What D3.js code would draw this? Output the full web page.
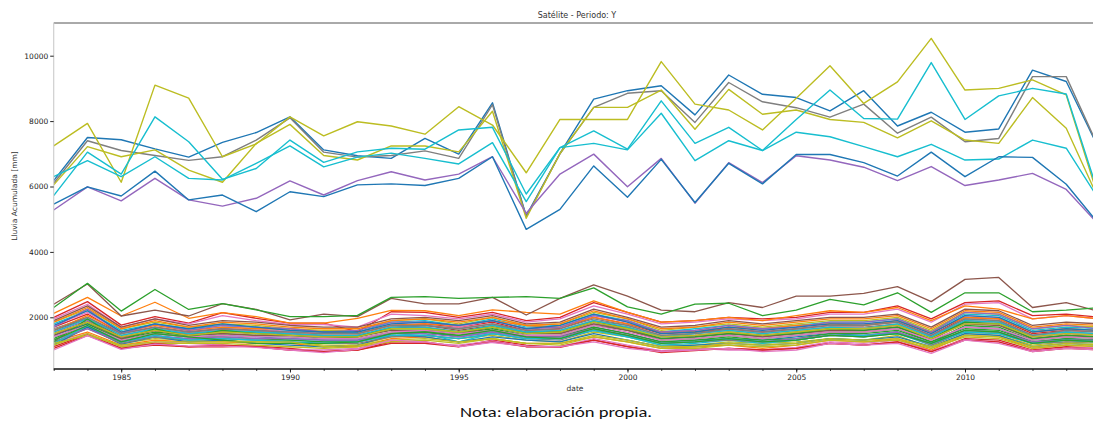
<!DOCTYPE html>
<html><head><meta charset="utf-8">
<script src="https://cdn.jsdelivr.net/npm/d3@7/dist/d3.min.js"></script>
<style>body{margin:0;background:#fff} svg{display:block}</style>
</head><body>
<svg id="c" width="1093" height="426"></svg>
<script>
const years = [1983,1984,1985,1986,1987,1988,1989,1990,1991,1992,1993,1994,1995,1996,1997,1998,1999,2000,2001,2002,2003,2004,2005,2006,2007,2008,2009,2010,2011,2012,2013,2014];
const yTicks = [2000,4000,6000,8000,10000];
const xMajorTicks = [1985,1990,1995,2000,2005,2010];
const chartTitle = "Satélite - Periodo: Y";
const yLabel = "Lluvia Acumulada [mm]";
const xLabel = "date";
const note = "Nota: elaboración propia.";

// upper group (high-rainfall stations)
const blueTop = [6180,7500,7430,7150,6900,7350,7650,8130,7120,6940,6860,7470,6990,8560,5100,7010,8670,8930,9080,8190,9410,8820,8720,8310,8930,7850,8270,7660,7760,9560,9210,7080];
const grayTop = [6100,7400,7100,6950,6800,6910,7420,8100,7050,6900,6950,7090,6860,8500,5080,7000,8420,8850,8930,7960,9180,8590,8410,8120,8520,7630,8120,7370,7470,9360,9360,7100];
const oliveA = [7240,7930,6130,9100,8700,6910,7300,8130,7550,7980,7850,7600,8440,7880,6420,8050,8050,8050,9820,8520,8340,7730,8700,9690,8540,9200,10530,8950,9000,9260,8800,5500];
const oliveB = [6050,7220,6910,7120,6500,6130,7320,7900,6950,6810,7240,7240,7060,8300,5030,7010,8420,8420,8950,7750,8970,8210,8340,8050,7960,7490,8010,7420,7320,8720,7780,5520];
const cyanA = [5720,7050,6380,8130,7370,6220,6550,7420,6740,7060,7170,7140,7730,7810,5770,7190,7700,7140,8620,7320,7810,7100,8050,8950,8080,8060,9790,8050,8770,9000,8830,5630];
const cyanB = [6300,6790,6300,6910,6250,6200,6710,7240,6600,6900,7020,6860,6690,7340,5540,7190,7320,7120,8240,6790,7400,7100,7660,7520,7220,6910,7290,6810,6840,7420,7170,5550];
const purpleTop = [5280,5990,5560,6250,5590,5400,5640,6170,5740,6180,6450,6200,6380,6910,5180,6380,6990,5990,6860,5490,6730,6120,6940,6810,6590,6180,6610,6030,6200,6400,5910,4790];
const blueLow = [5460,5990,5710,6470,5590,5740,5230,5840,5690,6050,6080,6030,6250,6910,4690,5300,6630,5670,6830,5510,6710,6080,6980,6980,6730,6320,7050,6300,6910,6890,6070,4810];

// lower group
const lGreen = [2300,3040,2190,2850,2240,2420,2230,2020,2020,2060,2610,2630,2580,2610,2630,2580,2900,2320,2100,2400,2430,2050,2220,2550,2380,2750,2150,2750,2750,2170,2220,2300];
const lBrown = [2400,3020,2040,2220,2040,2420,2240,1920,2100,2020,2580,2410,2410,2610,2070,2580,2990,2650,2220,2170,2450,2300,2650,2650,2730,2940,2480,3160,3220,2300,2450,2170];
const lOrange = [2120,2610,2040,2460,1970,2140,2020,1820,1820,1970,2210,2200,2050,2230,2150,2100,2500,2150,1850,1900,2000,1900,2050,2200,2150,2300,1900,2350,2250,1950,2050,1950];
const lPink0 = [1000,1440,1020,1180,1120,1120,1080,1000,920,1020,1300,1250,1100,1230,1120,1100,1250,1050,950,1000,1050,950,1000,1200,1150,1200,900,1300,1200,950,1050,1000];
const s01 = [1100,1480,1050,1150,1100,1100,1120,1050,950,1000,1250,1250,1100,1300,1150,1080,1300,1100,920,980,1050,1000,1050,1200,1150,1250,950,1350,1300,1000,1100,1050];
const s02 = [1200,1500,1100,1250,1200,1150,1100,1000,1000,1050,1300,1200,1150,1280,1100,1100,1350,1150,980,1050,1000,1000,1080,1250,1200,1300,980,1320,1250,980,1050,1080];
const s03 = [1250,1550,1150,1300,1250,1250,1200,1200,1100,1100,1350,1400,1250,1350,1200,1200,1400,1250,1050,1100,1150,1050,1150,1300,1250,1350,1000,1450,1400,1050,1150,1100];
const s04 = [1300,1700,1200,1350,1300,1300,1250,1250,1150,1150,1400,1450,1350,1450,1300,1250,1550,1400,1150,1150,1250,1200,1250,1350,1300,1450,1050,1500,1450,1150,1250,1200];
const s05 = [1400,1720,1250,1400,1350,1350,1300,1300,1250,1250,1450,1500,1250,1500,1350,1350,1600,1400,1150,1200,1300,1200,1300,1450,1400,1500,1150,1600,1550,1200,1300,1250];
const s06 = [1450,1800,1300,1500,1400,1450,1400,1350,1300,1300,1500,1550,1400,1550,1400,1400,1700,1500,1250,1300,1350,1300,1400,1500,1450,1550,1200,1700,1650,1250,1350,1300];
const s07 = [1500,1850,1350,1550,1450,1500,1450,1400,1350,1350,1550,1600,1500,1650,1450,1450,1750,1600,1300,1350,1450,1350,1450,1550,1550,1650,1250,1750,1700,1300,1400,1350];
const s08 = [1550,1900,1380,1600,1450,1550,1500,1450,1400,1400,1650,1700,1550,1700,1500,1500,1800,1650,1350,1400,1500,1400,1500,1600,1600,1700,1300,1850,1800,1350,1450,1400];
const s09 = [1600,1950,1400,1600,1500,1550,1550,1500,1450,1450,1650,1750,1600,1750,1550,1550,1850,1700,1400,1450,1550,1450,1550,1650,1650,1750,1350,1900,1850,1400,1500,1450];
const s10 = [1650,2000,1450,1650,1500,1600,1550,1500,1450,1450,1700,1750,1650,1800,1550,1600,1900,1750,1450,1500,1600,1500,1600,1700,1700,1800,1400,1950,1900,1450,1550,1500];
const s11 = [1700,2100,1500,1700,1550,1650,1600,1550,1500,1500,1750,1800,1700,1850,1600,1650,2000,1800,1500,1550,1650,1550,1650,1750,1750,1850,1450,2000,1950,1500,1600,1550];
const s12 = [1750,2150,1550,1750,1600,1700,1650,1550,1550,1550,1800,1850,1700,1900,1650,1700,2050,1850,1550,1600,1700,1600,1700,1800,1800,1900,1500,2050,2000,1550,1650,1600];
const s13 = [1800,2200,1600,1800,1650,1750,1700,1600,1550,1550,1850,1900,1750,1950,1700,1750,2100,1900,1550,1650,1750,1650,1750,1850,1850,1950,1550,2100,2050,1600,1700,1650];
const s14 = [1850,2250,1650,1850,1700,1800,1750,1650,1600,1600,1900,1950,1800,2000,1750,1800,2150,1950,1600,1700,1800,1700,1800,1900,1900,2000,1600,2150,2100,1650,1750,1700];
const s15 = [2000,2480,1760,2020,1820,2140,1970,1820,1820,1560,2170,2150,2000,2150,1900,2000,2450,2150,1850,1900,2000,1950,2000,2150,2150,2350,1950,2450,2500,2050,2100,2000];
const s16 = [1950,2400,1700,1950,1800,2050,1900,1780,1780,1700,2100,2050,1950,2100,1850,1950,2350,2100,1800,1850,1950,1900,1950,2100,2100,2250,1850,2400,2450,1950,2050,1950];
const s17 = [1150,1700,1180,1400,1250,1300,1200,1150,1100,1150,1450,1400,1250,1400,1300,1250,1500,1300,1100,1150,1200,1150,1200,1350,1300,1400,1100,1500,1450,1100,1200,1150];
const s18 = [1600,2050,1550,1750,1600,1700,1650,1650,1550,1500,1750,1800,1750,1900,1750,1700,2000,1800,1550,1550,1700,1650,1750,1800,1750,1900,1550,2000,1950,1550,1650,1600];
const s19 = [1350,1800,1300,1500,1400,1400,1350,1300,1250,1250,1500,1550,1450,1600,1400,1400,1700,1500,1250,1300,1400,1300,1350,1500,1500,1600,1250,1650,1600,1250,1350,1300];
const s20 = [1700,2250,1500,1800,1600,1750,1700,1650,1550,1600,1850,1850,1750,1900,1650,1700,2050,1900,1550,1600,1750,1650,1700,1850,1850,1950,1550,2150,2100,1650,1750,1650];
const s21 = [1450,1850,1350,1600,1450,1500,1450,1450,1400,1400,1600,1600,1500,1700,1500,1500,1800,1600,1350,1400,1500,1400,1500,1600,1600,1700,1350,1800,1750,1350,1450,1400];
const s22 = [1250,1650,1200,1400,1300,1350,1300,1250,1200,1200,1400,1450,1350,1500,1350,1300,1600,1450,1200,1250,1300,1250,1300,1450,1400,1550,1150,1550,1500,1200,1250,1250];
const s23 = [1150,1500,1100,1200,1200,1200,1150,1100,1050,1100,1250,1300,1200,1350,1200,1150,1400,1250,1050,1050,1150,1100,1150,1300,1250,1300,1050,1400,1350,1050,1150,1100];
const s24 = [1550,1950,1450,1650,1500,1600,1550,1500,1450,1450,1700,1700,1550,1750,1550,1600,1900,1700,1400,1500,1600,1500,1600,1700,1650,1800,1400,1900,1850,1450,1550,1500];
const s25 = [1750,2200,1550,1800,1650,1800,1700,1600,1550,1550,1800,1850,1750,1900,1650,1750,2100,1850,1500,1550,1700,1600,1700,1800,1800,1900,1500,2050,2000,1550,1650,1600];
const s26 = [1850,2300,1650,1900,1700,1850,1800,1700,1650,1650,1900,1950,1850,2000,1750,1800,2200,1950,1650,1700,1850,1750,1850,1950,1950,2050,1650,2200,2150,1700,1800,1750];
const s27 = [1250,1950,1300,1650,1400,1600,1500,1450,1350,1400,1650,1650,1550,1700,1500,1550,1850,1650,1350,1400,1500,1450,1500,1650,1600,1700,1350,1850,1800,1350,1450,1400];
const s28 = [1050,1450,1050,1200,1100,1150,1100,1000,950,1000,1200,1200,1100,1250,1100,1100,1300,1100,950,1000,1050,1000,1050,1200,1150,1250,950,1300,1250,950,1050,1000];
const s29 = [1300,1650,1250,1450,1350,1400,1350,1350,1300,1300,1500,1500,1400,1550,1400,1400,1650,1450,1200,1250,1350,1250,1350,1450,1450,1550,1200,1600,1550,1250,1300,1300];
const s30 = [1900,2350,1700,1950,1750,1900,1850,1750,1700,1700,1950,2000,1900,2050,1800,1850,2250,2000,1700,1750,1900,1800,1900,2000,2000,2100,1700,2250,2200,1750,1850,1800];
const s31 = [1400,1750,1300,1500,1400,1450,1400,1400,1350,1350,1550,1600,1500,1600,1450,1450,1750,1550,1300,1350,1450,1350,1450,1550,1550,1650,1300,1700,1650,1300,1400,1350];
const s32 = [1600,2000,1500,1700,1550,1650,1600,1550,1500,1500,1750,1750,1650,1800,1600,1650,1950,1750,1450,1500,1650,1550,1650,1750,1750,1850,1450,1950,1900,1450,1600,1550];
const s33 = [1500,1850,1400,1600,1450,1550,1500,1450,1400,1400,1650,1650,1550,1700,1500,1550,1850,1650,1400,1450,1550,1450,1550,1650,1650,1750,1350,1800,1800,1400,1500,1450];
const s34 = [1200,1750,1250,1450,1300,1350,1300,1250,1200,1250,1450,1450,1350,1500,1350,1350,1600,1400,1200,1250,1350,1250,1300,1450,1450,1500,1200,1550,1500,1200,1300,1250];
const s35 = [1300,1750,1250,1500,1400,1300,1200,1200,1200,1250,1500,1550,1450,1600,1400,1350,1650,1450,1200,1250,1350,1250,1300,1450,1400,1500,1200,1600,1550,1200,1300,1250];
const s36 = [1200,1450,1150,1250,1250,1250,1250,1250,1100,1150,1300,1350,1250,1350,1200,1200,1450,1300,1100,1100,1200,1150,1200,1350,1300,1350,1100,1450,1400,1100,1200,1150];

const lowerSeries = [s01,s02,s03,s04,s05,s06,s07,s08,s09,s10,s11,s12,s13,s14,s15,s16,s17,s18,s19,s20,s21,s22,s23,s24,s25,s26,s27,s28,s29,s30,s31,s32,s33,s34,s35,s36,lPink0,lOrange,lBrown,lGreen];
const lowerColorIdx = [3,6,1,8,9,0,2,4,5,7,3,6,9,8,3,6,0,1,2,4,5,7,8,9,0,1,2,3,4,5,6,7,8,9,2,8,6,1,5,2];
const upperSeries = [blueTop,grayTop,oliveA,oliveB,cyanA,cyanB,purpleTop,blueLow];
const upperColorIdx = [0,7,8,8,9,9,4,0];
const palette = ["#1f77b4","#ff7f0e","#2ca02c","#d62728","#9467bd","#8c564b","#e377c2","#7f7f7f","#bcbd22","#17becf"];

const svg = d3.select("#c");
const L = 53.7, R = 1100, T = 23, B = 369;
const x = d3.scaleLinear().domain([1983, 2014]).range([L, R]);
const y = d3.scaleLinear().domain([419, 11000]).range([B, T]);

svg.append("defs").append("clipPath").attr("id","clip")
  .append("rect").attr("x",L).attr("y",T).attr("width",R-L).attr("height",B-T);

const line = d3.line().x((d,i)=>x(years[i])).y(d=>y(d));
const g = svg.append("g").attr("clip-path","url(#clip)");
lowerSeries.forEach((s,k)=>{
  g.append("path").attr("d",line(s)).attr("fill","none")
   .attr("stroke",palette[lowerColorIdx[k]]).attr("stroke-width",1.3).attr("stroke-linejoin","round");
});
upperSeries.forEach((s,k)=>{
  g.append("path").attr("d",line(s)).attr("fill","none")
   .attr("stroke",palette[upperColorIdx[k]]).attr("stroke-width",1.4).attr("stroke-linejoin","round");
});

// spines
svg.append("line").attr("x1",L).attr("x2",1093).attr("y1",T).attr("y2",T).attr("stroke","#555").attr("stroke-width",1);
svg.append("line").attr("x1",L).attr("x2",L).attr("y1",T).attr("y2",B).attr("stroke","#cfcfcf").attr("stroke-width",1.2);

const font = "DejaVu Sans, sans-serif";
const ya = svg.append("g").attr("transform",`translate(${L},0)`)
  .call(d3.axisLeft(y).tickValues(yTicks).tickSize(3.5).tickPadding(2).tickFormat(d3.format("d")));
ya.select(".domain").remove();
ya.selectAll("text").attr("font-family",font).attr("font-size",7.5).attr("fill","#222");
ya.selectAll("line").attr("stroke","#222");

const xm = svg.append("g").attr("transform",`translate(0,${B})`)
  .call(d3.axisBottom(x).tickValues(years).tickSize(2).tickFormat(""));
xm.select(".domain").remove();
xm.selectAll("line").attr("stroke","#444");
const xa = svg.append("g").attr("transform",`translate(0,${B})`)
  .call(d3.axisBottom(x).tickValues(xMajorTicks).tickSize(3.5).tickPadding(2.5).tickFormat(d3.format("d")));
xa.select(".domain").remove();
xa.selectAll("text").attr("font-family",font).attr("font-size",7.5).attr("fill","#222");
xa.selectAll("line").attr("stroke","#222");
svg.append("line").attr("x1",L).attr("x2",1093).attr("y1",B).attr("y2",B).attr("stroke","#111").attr("stroke-width",1.4);

svg.append("text").attr("x",577).attr("y",15).attr("text-anchor","middle").attr("dominant-baseline","middle")
  .attr("font-family",font).attr("font-size",8).attr("fill","#333").text(chartTitle);
svg.append("text").attr("transform","translate(15,196) rotate(-90)").attr("text-anchor","middle").attr("dominant-baseline","middle")
  .attr("font-family",font).attr("font-size",7.5).attr("fill","#333").text(yLabel);
svg.append("text").attr("x",575).attr("y",389).attr("text-anchor","middle").attr("dominant-baseline","middle")
  .attr("font-family",font).attr("font-size",7.5).attr("fill","#333").text(xLabel);
svg.append("text").attr("x",556).attr("y",414).attr("text-anchor","middle").attr("dominant-baseline","middle")
  .attr("font-family","Carlito, 'Open Sans', Lato, sans-serif").attr("font-size",14.5).attr("fill","#111")
  .attr("textLength",192).attr("lengthAdjust","spacingAndGlyphs").text(note);
</script>
</body></html>
